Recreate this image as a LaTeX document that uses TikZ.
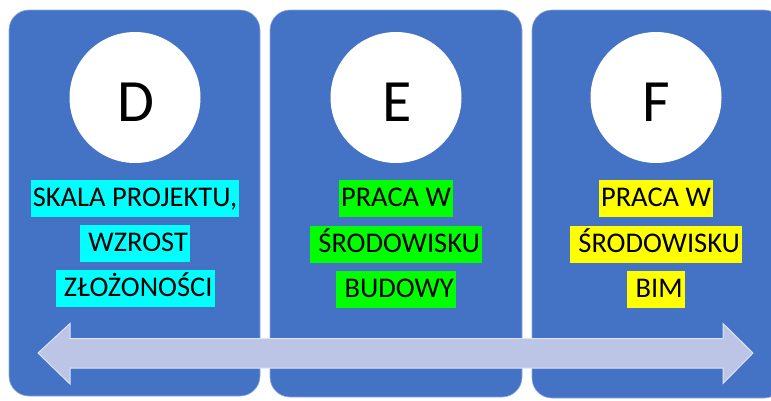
\documentclass[tikz,border=0pt]{standalone}
\usepackage{fontspec}
\setmainfont{Carlito}
\definecolor{panelblue}{RGB}{68,114,196}
\definecolor{arrowfill}{RGB}{188,197,230}
\definecolor{arrowedge}{RGB}{222,228,246}
\definecolor{hlcyan}{RGB}{0,255,255}
\definecolor{hlgreen}{RGB}{0,255,0}
\definecolor{hlyellow}{RGB}{255,255,0}
\tikzset{
  panel/.style={fill=panelblue, draw=panelblue!60!white, line width=0.6pt, rounded corners=20pt},
  disc/.style={circle, fill=white, minimum size=131pt, inner sep=0pt},
  letter/.style={font=\fontsize{60}{60}\selectfont, text=black, inner sep=0pt, anchor=base},
  hl/.style={fill=#1, text=black, inner xsep=2pt, inner ysep=0pt, text height=26.5pt, text depth=10.5pt, font=\fontsize{28.5}{30}\selectfont},
}
\begin{document}
\begin{tikzpicture}[x=1pt,y=-1pt]
\useasboundingbox (0,0) rectangle (771,400);
\begin{scope}
\clip (0,0) rectangle (771,400);
\draw[panel] (9,10) rectangle (260,396);
\draw[panel] (270,10) rectangle (522,397);
\draw[panel] (532,10) rectangle (784,398);
\end{scope}
% circles
\node[disc] (cD) at (135,97.5) {};
\node[disc] (cE) at (396,97.5) {};
\node[disc] (cF) at (656,97.5) {};
\node[letter] (lD) at (136,121) {D};
\node[letter] (lE) at (397,121) {E};
\node[letter] (lF) at (656,121) {F};
% texts
\node[hl=hlcyan] (d1) at (135,198.5) {SKALA PROJEKTU,};
\node[hl=hlcyan] (d2) at (135,243.5) {\ WZROST};
\node[hl=hlcyan] (d3) at (135,288.5) {\ ZŁOŻONOŚCI};
\node[hl=hlgreen] (e1) at (396,198.5) {PRACA W};
\node[hl=hlgreen] (e2) at (396,244.5) {\ ŚRODOWISKU};
\node[hl=hlgreen] (e3) at (396,289.5) {\ BUDOWY};
\node[hl=hlyellow] (f1) at (656,198.5) {PRACA W};
\node[hl=hlyellow] (f2) at (656,244.5) {\ ŚRODOWISKU};
\node[hl=hlyellow] (f3) at (656,289.5) {\ BIM};
% double arrow
\draw[fill=arrowfill, draw=arrowedge, line width=1pt, line join=miter]
  (38,353) -- (70,323.5) -- (70,338.5) -- (723,338.5) -- (723,323.5) -- (753,353)
  -- (723,383.5) -- (723,368) -- (70,368) -- (70,384) -- cycle;
\end{tikzpicture}
\end{document}
